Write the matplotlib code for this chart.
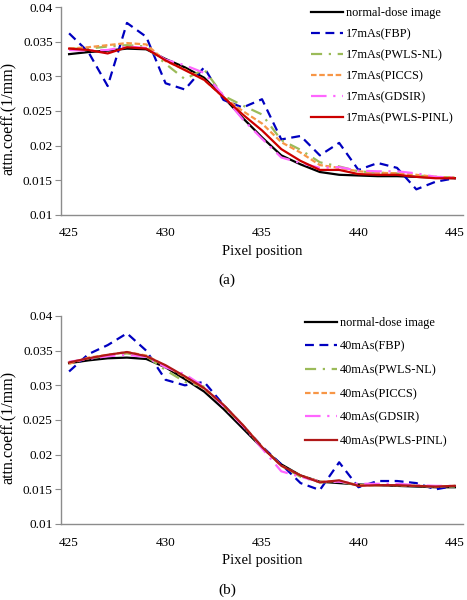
import matplotlib
matplotlib.use("Agg")
import matplotlib.pyplot as plt
import numpy as np

plt.rcParams['font.family'] = ['Liberation Serif', 'DejaVu Serif']

pixels = list(range(425, 446))
xticks = [425, 430, 435, 440, 445]
yticks = [0.01, 0.015, 0.02, 0.025, 0.03, 0.035, 0.04]
ytick_labels = ['0.01', '0.015', '0.02', '0.025', '0.03', '0.035', '0.04']

# (a) 17 mAs
a_normal = [0.0332, 0.0335, 0.0337, 0.0340, 0.0339, 0.0325, 0.0313, 0.0298, 0.0270, 0.0240, 0.0212, 0.0186, 0.0173, 0.0162, 0.0158, 0.0157, 0.0156, 0.0156, 0.0155, 0.0154, 0.0153]
a_fbp = [0.0362, 0.0335, 0.0286, 0.0377, 0.0357, 0.0290, 0.0281, 0.0313, 0.0266, 0.0255, 0.0267, 0.0209, 0.0214, 0.0186, 0.0204, 0.0165, 0.0175, 0.0168, 0.0137, 0.0148, 0.0153]
a_pwlsnl = [0.0340, 0.0340, 0.0343, 0.0345, 0.0343, 0.0318, 0.0296, 0.0310, 0.0272, 0.0258, 0.0245, 0.0208, 0.0194, 0.0176, 0.0170, 0.0163, 0.0161, 0.0160, 0.0157, 0.0155, 0.0154]
a_piccs = [0.0340, 0.0342, 0.0345, 0.0348, 0.0346, 0.0322, 0.0310, 0.0295, 0.0270, 0.0250, 0.0232, 0.0205, 0.0190, 0.0172, 0.0168, 0.0163, 0.0161, 0.0160, 0.0158, 0.0155, 0.0154]
a_gdsir = [0.0338, 0.0337, 0.0338, 0.0343, 0.0341, 0.0324, 0.0316, 0.0305, 0.0272, 0.0238, 0.0210, 0.0183, 0.0175, 0.0168, 0.0169, 0.0164, 0.0163, 0.0163, 0.0160, 0.0155, 0.0154]
a_pinl = [0.0340, 0.0338, 0.0333, 0.0342, 0.0340, 0.0323, 0.0309, 0.0295, 0.0270, 0.0245, 0.0222, 0.0195, 0.0178, 0.0165, 0.0165, 0.0159, 0.0158, 0.0158, 0.0155, 0.0153, 0.0153]

# (b) 40 mAs
b_normal = [0.0332, 0.0336, 0.0339, 0.0340, 0.0338, 0.0326, 0.0309, 0.0291, 0.0266, 0.0238, 0.0210, 0.0186, 0.0170, 0.0161, 0.0159, 0.0157, 0.0156, 0.0155, 0.0154, 0.0153, 0.0153]
b_fbp = [0.0320, 0.0345, 0.0358, 0.0375, 0.0350, 0.0308, 0.0300, 0.0305, 0.0272, 0.0242, 0.0212, 0.0186, 0.0159, 0.0149, 0.0189, 0.0153, 0.0162, 0.0162, 0.0159, 0.0150, 0.0155]
b_pwlsnl = [0.0333, 0.0339, 0.0343, 0.0346, 0.0342, 0.0322, 0.0305, 0.0298, 0.0270, 0.0242, 0.0211, 0.0184, 0.0168, 0.0160, 0.0161, 0.0156, 0.0156, 0.0156, 0.0155, 0.0154, 0.0154]
b_piccs = [0.0331, 0.0340, 0.0344, 0.0348, 0.0343, 0.0328, 0.0312, 0.0295, 0.0271, 0.0243, 0.0211, 0.0184, 0.0170, 0.0161, 0.0162, 0.0156, 0.0156, 0.0156, 0.0155, 0.0154, 0.0155]
b_gdsir = [0.0334, 0.0338, 0.0342, 0.0344, 0.0341, 0.0326, 0.0316, 0.0298, 0.0270, 0.0242, 0.0209, 0.0176, 0.0168, 0.0161, 0.0161, 0.0158, 0.0158, 0.0158, 0.0156, 0.0155, 0.0155]
b_pinl = [0.0333, 0.0339, 0.0344, 0.0348, 0.0342, 0.0329, 0.0313, 0.0296, 0.0272, 0.0243, 0.0211, 0.0184, 0.0170, 0.0160, 0.0163, 0.0155, 0.0156, 0.0156, 0.0155, 0.0154, 0.0155]

a_labels = ['normal-dose image', '17mAs(FBP)', '17mAs(PWLS-NL)', '17mAs(PICCS)', '17mAs(GDSIR)', '17mAs(PWLS-PINL)']
b_labels = ['normal-dose image', '40mAs(FBP)', '40mAs(PWLS-NL)', '40mAs(PICCS)', '40mAs(GDSIR)', '40mAs(PWLS-PINL)']

styles = [
    dict(color='#000000', linestyle='-', lw=1.6),
    dict(color='#0000c0', linestyle=(0, (4, 2.5)), lw=1.6),
    dict(color='#9bbb59', linestyle=(0, (5, 3, 1, 3)), lw=1.6),
    dict(color='#f79646', linestyle=(0, (2.5, 1.2)), lw=1.6),
    dict(color='#ff66ff', linestyle=(0, (7, 3, 1, 3)), lw=1.6),
    dict(color='#c00000', linestyle='-', lw=1.6),
]

W, H = 467, 600
fig = plt.figure(figsize=(W / 100, H / 100), dpi=100)

def make_axes(top_px, bottom_px, series, labels, red, caption, cap_y, leg_left_px, leg_top_px, leg_spacing):
    ax = fig.add_axes([61 / W, (H - bottom_px) / H, (463 - 61) / W, (bottom_px - top_px) / H])
    for s, lab, st in zip(series, labels, styles):
        st = dict(st)
        if lab.endswith('PINL)'):
            st['color'] = red
        ax.plot(pixels, s, label=lab, **st)
    ax.set_xlim(424.58, 445.42)
    ax.set_ylim(0.01, 0.04)
    ax.set_xticks(xticks)
    ax.set_xticklabels([str(t) for t in xticks], fontsize=9.5)
    ax.set_yticks(yticks)
    ax.set_yticklabels(ytick_labels, fontsize=9.5)
    for sp in ['top', 'right']:
        ax.spines[sp].set_visible(False)
    for sp in ['left', 'bottom']:
        ax.spines[sp].set_color('#8c8c8c')
        ax.spines[sp].set_linewidth(1.0)
    ax.tick_params(axis='y', length=4, color='#8c8c8c', pad=2)
    ax.tick_params(axis='x', length=0, pad=9)
    ax.set_xlabel('Pixel position', fontsize=10.5, labelpad=4)
    ax.set_ylabel('attn.coeff.(1/mm)', fontsize=11.6)
    ax.yaxis.set_label_coords(-44 / (463 - 61), 0.466)
    ax.legend(loc='upper left',
              bbox_to_anchor=((leg_left_px - 61) / (463 - 61), 1 - (leg_top_px - top_px) / (bottom_px - top_px)),
              frameon=False, fontsize=8.8, handlelength=2.6, handletextpad=0.25,
              labelspacing=leg_spacing, borderaxespad=0, borderpad=0)
    fig.text(227 / W, 1 - cap_y / H, caption, ha='center', va='center', fontsize=11)
    return ax

make_axes(7, 215, [a_normal, a_fbp, a_pwlsnl, a_piccs, a_gdsir, a_pinl], a_labels,
          '#cc0000', '(a)', 280, 311, 7, 0.74)
make_axes(316, 524, [b_normal, b_fbp, b_pwlsnl, b_piccs, b_gdsir, b_pinl], b_labels,
          '#b01818', '(b)', 590, 305, 317, 0.95)

fig.savefig('out.png', dpi=100)
